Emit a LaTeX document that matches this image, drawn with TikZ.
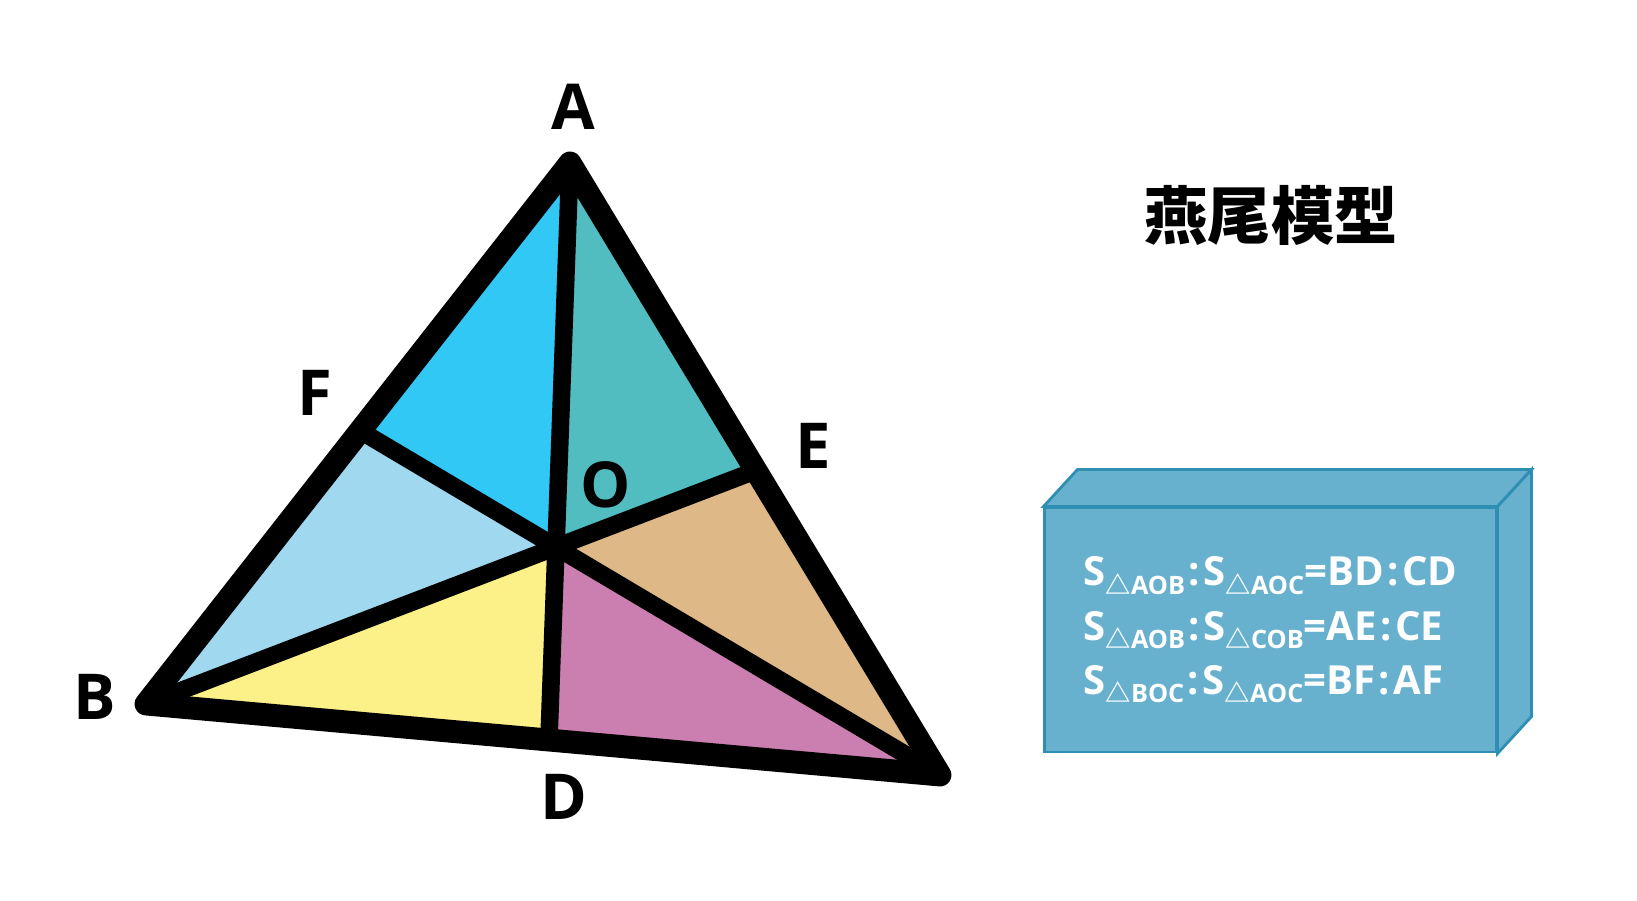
\documentclass[tikz,border=0pt]{standalone}
\usepackage{fontspec}
\setmainfont{Open Sans}
\newfontfamily\cjk{Noto Sans CJK SC}
\usetikzlibrary{positioning, calc}

\definecolor{skyA}{HTML}{31C8F6}
\definecolor{tealA}{HTML}{52BDC1}
\definecolor{paleB}{HTML}{A0D8EF}
\definecolor{yellowB}{HTML}{FCF188}
\definecolor{pinkC}{HTML}{CB7FB0}
\definecolor{tanC}{HTML}{DEB887}
\definecolor{boxfill}{HTML}{68B1CE}
\definecolor{boxedge}{HTML}{2F8FB3}

% small triangle subscript
\newcommand\tri[1]{\raisebox{-0.4ex}{\fontsize{7.2}{8}\selectfont{\cjk\bfseries △}#1}}
\newcommand\ratio{\kern1pt:\kern1pt}

\begin{document}
\begin{tikzpicture}[x=0.01cm, y=-0.01cm,
        every node/.style={font=\bfseries\fontsize{18}{20}\selectfont},
        edge/.style={line width=6.5pt, line join=round, line cap=round},
        cevian/.style={line width=5pt},
        face/.style={fill=boxfill, draw=boxedge, line width=0.8pt}]
        \useasboundingbox (0,0) rectangle (1637,900);

        \coordinate (A) at (570,163); % apex
        \coordinate (B) at (146,704); % bottom left
        \coordinate (C) at (940,775); % bottom right
        \coordinate (O) at (556,547); % meeting point of the cevians
        \coordinate (D) at (intersection of A--O and B--C);
        \coordinate (E) at (intersection of B--O and A--C);
        \coordinate (F) at (intersection of C--O and A--B);

        % The six small triangles
        \foreach \p/\q/\c in {A/F/skyA, F/B/paleB, B/D/yellowB, D/C/pinkC, C/E/tanC, E/A/tealA} {
            \fill[\c] (\p) -- (\q) -- (O) -- cycle;
        }

        \draw[cevian] (A) -- (D);
        \draw[cevian] (B) -- (E);
        \draw[cevian] (C) -- (F);
        \draw[edge] (A) -- (B) -- (C) -- cycle;

        % Point labels
        \node (lA) at (573,107) {A};
        \node (lB) at (95,697) {B};
        \node (lD) at (564,797) {D};
        \node (lE) at (813,446) {E};
        \node (lF) at (315,393) {F};
        \node (lO) at (606,485) {O};

        \node[font=\cjk\bfseries\fontsize{18}{20}\selectfont] (title) at (1271,215) {燕尾模型};

        % Box with the ratios
        \node[face, minimum width=4.51cm, minimum height=2.44cm, inner sep=0pt] (front) at (1270.5,630) {};
        \draw[face] (front.north west) -- ++(34,-37) -- ($(front.north east)+(34,-37)$) -- (front.north east) -- cycle;
        \draw[face] (front.north east) -- ++(34,-37) -- ($(front.south east)+(34,-37)$) -- (front.south east) -- cycle;
        \node[text=white, align=left, font=\bfseries\fontsize{11.4}{15.4}\selectfont] (ratios) at (front.center) {%
            S\tri{AOB}\ratio S\tri{AOC}=BD\ratio CD\\
            S\tri{AOB}\ratio S\tri{COB}=AE\ratio CE\\
            S\tri{BOC}\ratio S\tri{AOC}=BF\ratio AF};
\end{tikzpicture}
\end{document}
